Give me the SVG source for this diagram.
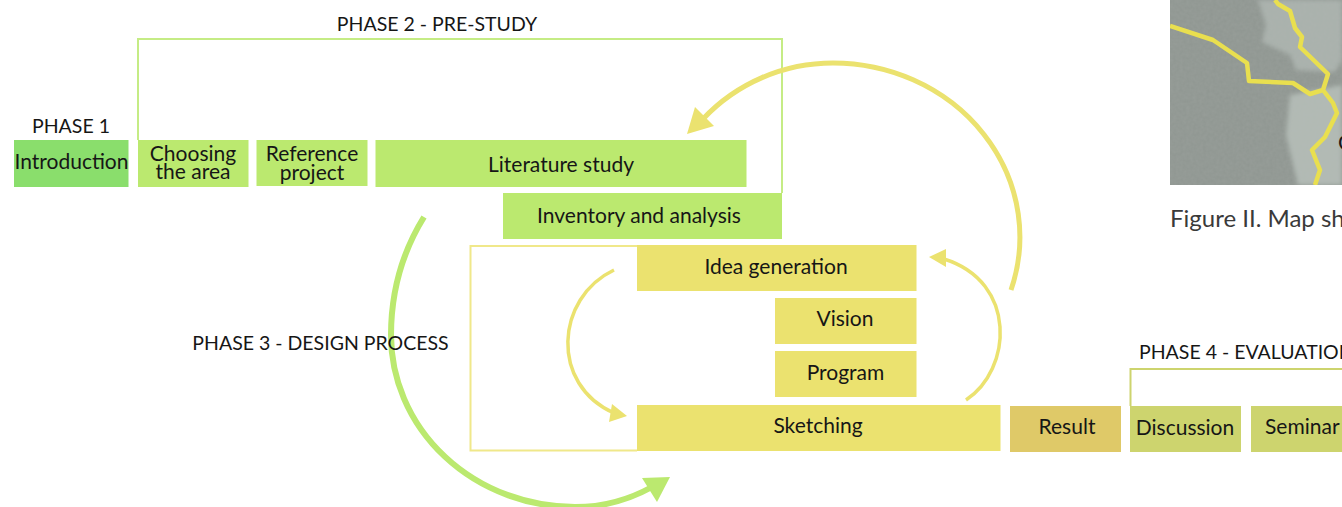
<svg xmlns="http://www.w3.org/2000/svg" width="1342" height="507" viewBox="0 0 1342 507">
<style>
text{font-family:Lato,"Liberation Sans",sans-serif;font-size:21px;fill:#161616;text-anchor:middle}
.s{font-size:19.500px}
.g{fill:#bbe96f}.y{fill:#ebe26f}.o{fill:#cdd46e}
.fr{fill:none;stroke-width:2}
.a{fill:none;stroke-linecap:butt}
</style>
<defs>
<filter id="tex" x="0" y="0" width="100%" height="100%"><feTurbulence type="fractalNoise" baseFrequency="0.3" numOctaves="2" seed="4"/><feColorMatrix values="0 0 0 0 0.48 0 0 0 0 0.5 0 0 0 0 0.48 0 0 0 0.2 0"/></filter>
<filter id="soft" x="-10%" y="-10%" width="120%" height="120%"><feGaussianBlur stdDeviation="2"/></filter>
<clipPath id="mc"><rect x="1170" y="0" width="172" height="185"/></clipPath>
</defs>
<g id="map" clip-path="url(#mc)">
<rect x="1170" y="0" width="172" height="185" fill="#8f9691"/>
<path d="M1258 0L1266 25L1262 42L1290 55L1296 70L1335 72L1342 60V0Z" fill="#a9b1ac" filter="url(#soft)"/>
<path d="M1290 95L1342 85V185H1298L1286 135Z" fill="#b1bab4" filter="url(#soft)"/>
<rect x="1170" y="0" width="172" height="185" filter="url(#tex)"/>
<path d="M1170 26L1213 40L1247 63L1249 81L1293 83L1310 94L1323 90M1275 0L1278 4L1290 11L1295 28L1302 37L1300 47L1328 74L1323 90L1333 103L1337 113L1325 137L1312 150L1320 170L1315 185" fill="none" stroke="#e9df4f" stroke-width="4.500" stroke-linejoin="round"/>
</g>
<g id="phase2-frame"><path class="fr" d="M138 140V39H782V193" stroke="#c5ec85"/></g>
<g id="phase3-frame"><path class="fr" d="M637 246H470.500V450.500H637" stroke="#f0e88a"/></g>
<g id="phase4-frame"><path class="fr" d="M1130.500 406V369H1342" stroke="#cdd46e"/></g>
<g id="connectors">
<path class="a" d="M424 217A184 207 0 0 0 391 335A184 172 0 0 0 575 507A164 172 0 0 0 652 487" stroke="#bbe96f" stroke-width="6"/>
<polygon points="670,477 642,478 657,502" fill="#bbe96f"/>
<path class="a" d="M1011 290A187 174 0 0 0 833 63A177 174 0 0 0 703 119" stroke="#ebe26f" stroke-width="5"/>
<polygon points="687,134 695,107 714,126" fill="#ebe26f"/>
<path class="a" d="M966 400C1012 370 1018 282 944 259" stroke="#ebe26f" stroke-width="3.500"/>
<polygon points="929,257 946,249 946,267" fill="#ebe26f"/>
<path class="a" d="M614 270C555 298 550 385 614 413" stroke="#ebe26f" stroke-width="3.500"/>
<polygon points="627,416 609,422 612,404" fill="#ebe26f"/>
</g>
<g id="introduction"><rect x="14" y="140" width="114.500" height="47" fill="#8ade6c"/><text x="71.500" y="168.500">Introduction</text></g>
<g id="choosing"><rect x="138" y="140" width="110.500" height="47" class="g"/><text x="193" y="160.500">Choosing</text><text x="193" y="179">the area</text></g>
<g id="reference"><rect x="256.500" y="140" width="111" height="46" class="g"/><text x="312" y="160.500">Reference</text><text x="312" y="180">project</text></g>
<g id="literature"><rect x="375.500" y="140" width="371" height="47" class="g"/><text x="561" y="171.500">Literature study</text></g>
<g id="inventory"><rect x="503" y="193" width="279" height="46" class="g"/><text x="639" y="222.500">Inventory and analysis</text></g>
<g id="idea"><rect x="637" y="245" width="279.500" height="46" class="y"/><text x="776" y="273.500">Idea generation</text></g>
<g id="vision"><rect x="775" y="298" width="141.500" height="46" class="y"/><text x="845" y="325.500">Vision</text></g>
<g id="program"><rect x="775" y="351" width="141.500" height="46" class="y"/><text x="845.500" y="379.500">Program</text></g>
<g id="sketching"><rect x="637" y="405" width="363.500" height="46" class="y"/><text x="818" y="432.500">Sketching</text></g>
<g id="result"><rect x="1010" y="406" width="111" height="46" fill="#dfc968"/><text x="1067" y="433.500">Result</text></g>
<g id="discussion"><rect x="1130" y="406" width="111" height="46" class="o"/><text x="1185" y="434.500">Discussion</text></g>
<g id="seminar"><rect x="1251" y="406" width="91" height="46" class="o"/><text x="1265" y="433.500" style="text-anchor:start">Seminar</text></g>
<g id="labels">
<text class="s" x="437" y="30.500">PHASE 2 - PRE-STUDY</text>
<text class="s" x="71" y="132.500">PHASE 1</text>
<text class="s" x="320.500" y="349.500">PHASE 3 - DESIGN PROCESS</text>
<text class="s" x="1139" y="358.500" style="text-anchor:start">PHASE 4 - EVALUATION</text>
<text x="1170" y="227" style="text-anchor:start;font-size:24px;fill:#3a3a3a">Figure II. Map showing</text>
<text x="1338" y="150" style="text-anchor:start;font-size:21px">C</text>
</g>
</svg>
